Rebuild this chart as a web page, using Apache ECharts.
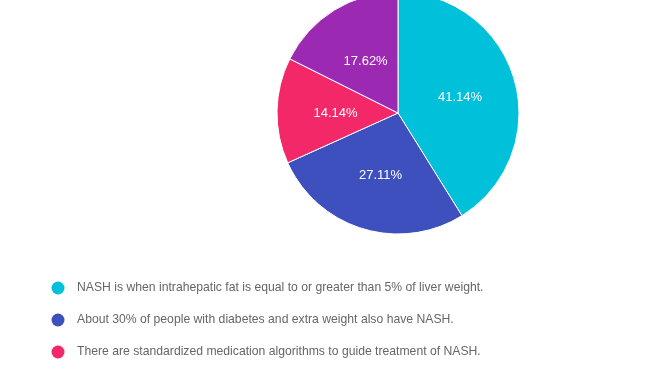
<!DOCTYPE html>
<html><head><meta charset="utf-8">
<script src="https://cdn.jsdelivr.net/npm/echarts@6/dist/echarts.min.js"></script>
<style>html,body{margin:0;padding:0;background:#fff}#c{width:672px;height:372px}</style>
</head><body><div id="c"></div>
<script>
const categories = [
  "NASH is when intrahepatic fat is equal to or greater than 5% of liver weight.",
  "About 30% of people with diabetes and extra weight also have NASH.",
  "There are standardized medication algorithms to guide treatment of NASH.",
  "None of the above."
];
const values = [41.14, 27.11, 14.14, 17.62];
const colors = ["#00C0DA", "#3E50BE", "#F22869", "#9B29B1"];

const chart = echarts.init(document.getElementById('c'));
chart.setOption({
  animation: false,
  color: colors,
  legend: categories.map((n, i) => ({
    orient: 'vertical',
    left: 46.5,
    top: 276.5 + i * 32,
    icon: 'circle',
    itemWidth: 13,
    itemHeight: 13,
    itemStyle: { borderWidth: 0 },
    textStyle: { color: '#666', fontSize: 12.2, fontFamily: 'Liberation Sans, Arial, sans-serif', padding: [0, 0, 0, 7.5] },
    data: [n]
  })),
  series: [{
    type: 'pie',
    center: [398, 113],
    radius: [0, 121],
    startAngle: 90,
    clockwise: true,
    itemStyle: { borderColor: '#fff', borderWidth: 1 },
    label: {
      position: 'inside',
      color: '#fff',
      fontSize: 13,
      fontFamily: 'Liberation Sans, Arial, sans-serif',
      offset: [1, 2],
      formatter: p => p.value.toFixed(2) + '%'
    },
    labelLine: { show: false },
    data: categories.map((n, i) => ({ name: n, value: values[i] }))
  }]
});
</script></body></html>
